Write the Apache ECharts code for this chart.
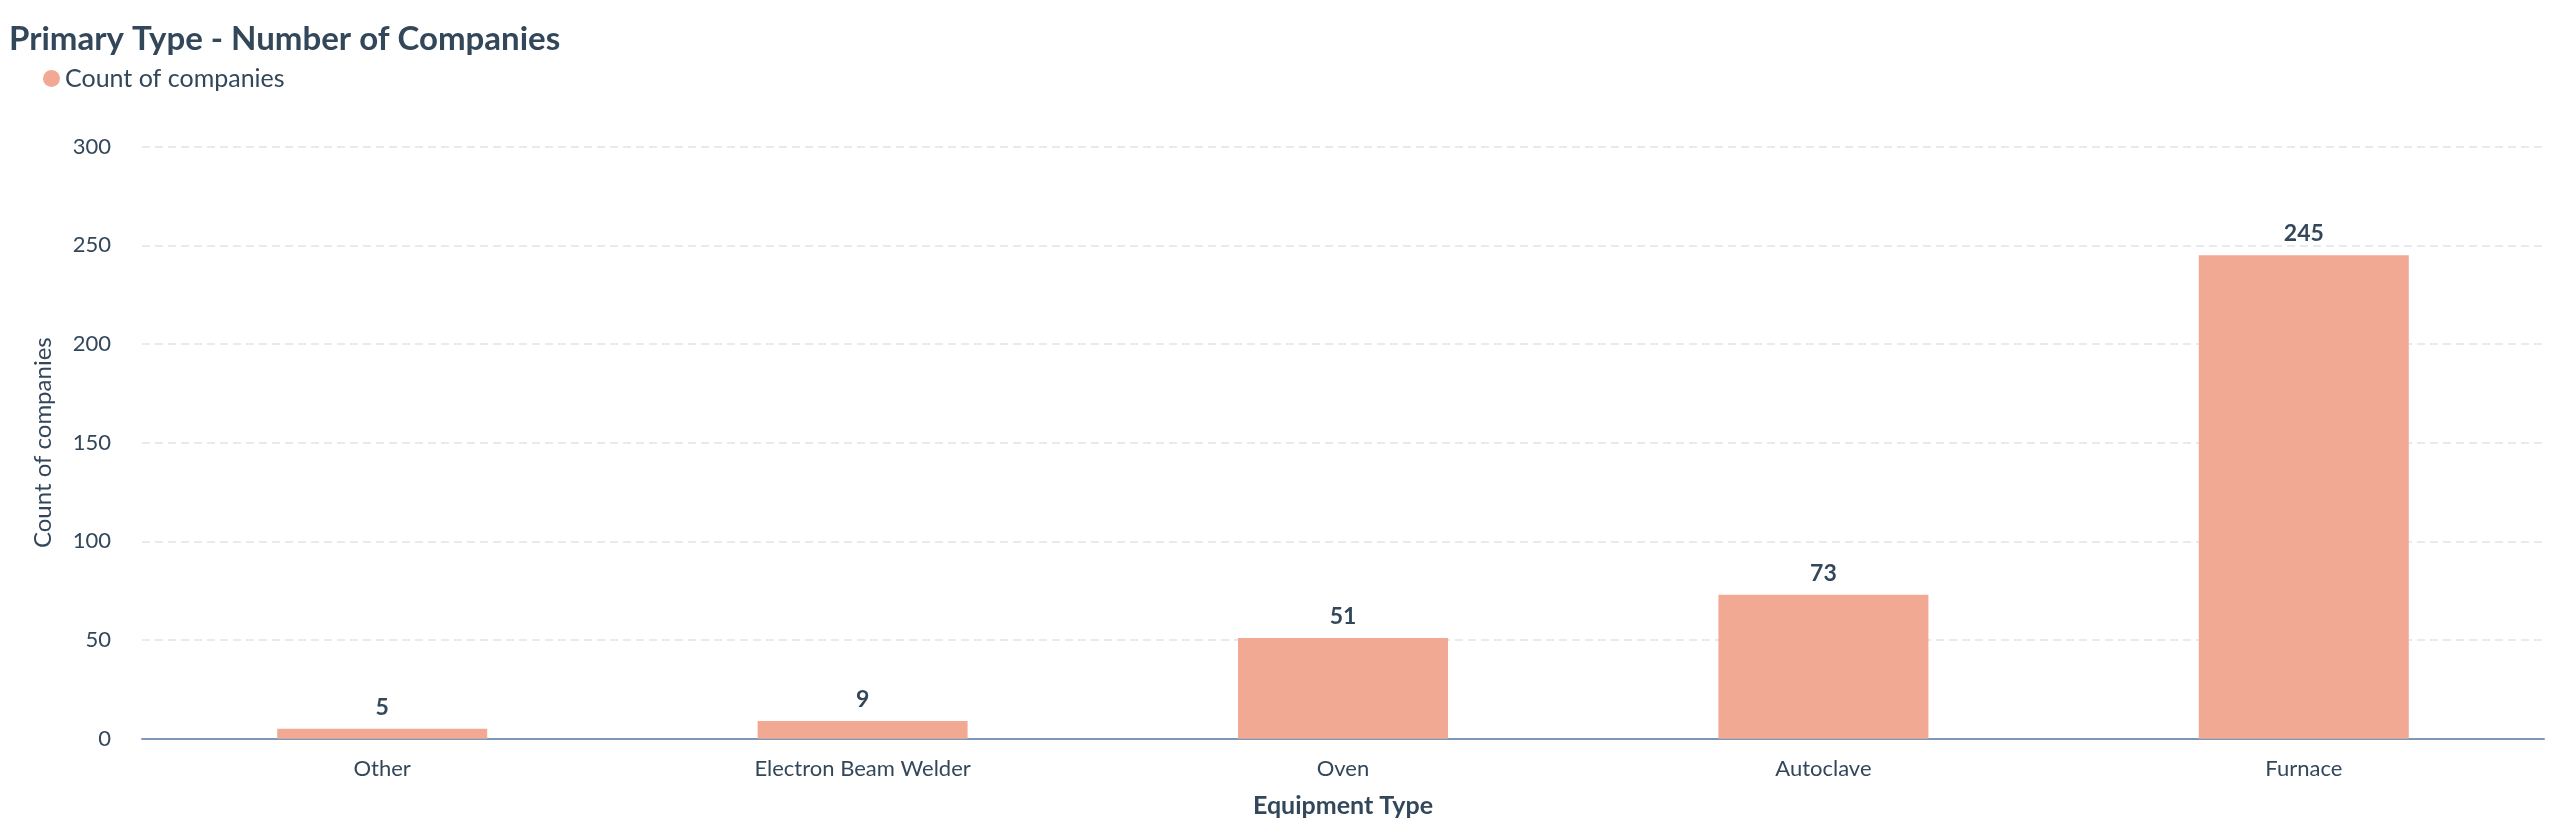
<!DOCTYPE html>
<html>
<head>
<meta charset="utf-8">
<script src="https://cdn.jsdelivr.net/npm/echarts@6/dist/echarts.min.js"></script>
<style>
html,body{margin:0;padding:0;background:#fff;}
#chart{width:2554px;height:838px;}
</style>
</head>
<body>
<div id="chart"></div>
<script>
const categories = ["Other", "Electron Beam Welder", "Oven", "Autoclave", "Furnace"];
const companyCounts = [5, 9, 51, 73, 245];
const yTicks = [0, 50, 100, 150, 200, 250, 300];

const textColor = "#33475b";
const fontFam = "Lato, 'Open Sans', sans-serif";
const chart = echarts.init(document.getElementById("chart"));
chart.setOption({
  animation: false,
  backgroundColor: "#ffffff",
  title: {
    text: "Primary Type - Number of Companies",
    left: 4, top: 18,
    textStyle: {color: textColor, fontSize: 33, fontWeight: "bold", fontFamily: fontFam}
  },
  legend: {
    left: 38, top: 61,
    icon: "circle", itemWidth: 17, itemHeight: 17, itemGap: 10,
    textStyle: {color: textColor, fontSize: 25, fontFamily: fontFam}
  },
  grid: {left: 142, right: 10, top: 146.7, bottom: 99.3, containLabel: false},
  xAxis: {
    type: "category",
    data: categories,
    name: "Equipment Type",
    nameLocation: "middle",
    nameGap: 55,
    nameTextStyle: {color: textColor, fontSize: 25, fontWeight: "bold", fontFamily: fontFam},
    axisLine: {lineStyle: {color: "#7c98b6", width: 2}},
    axisTick: {show: true, inside: true, length: 5, alignWithLabel: true, lineStyle: {color: "#7c98b6"}},
    axisLabel: {color: textColor, fontSize: 22, fontFamily: fontFam, margin: 19}
  },
  yAxis: {
    type: "value",
    min: yTicks[0], max: yTicks[yTicks.length - 1], interval: 50,
    name: "Count of companies",
    nameLocation: "middle",
    nameGap: 87,
    nameTextStyle: {color: textColor, fontSize: 24, fontFamily: fontFam},
    axisLine: {show: false},
    axisTick: {show: false},
    axisLabel: {color: textColor, fontSize: 22, fontFamily: fontFam, margin: 31},
    splitLine: {lineStyle: {color: "#dfe3eb", type: [8, 5], width: 1.5}}
  },
  series: [{
    name: "Count of companies",
    type: "bar",
    data: companyCounts,
    barWidth: 210,
    itemStyle: {color: "#f2a994"},
    label: {
      show: true, position: "top", distance: 10,
      color: textColor, fontSize: 23, fontWeight: "bold", fontFamily: fontFam
    }
  }]
});
</script>
</body>
</html>
